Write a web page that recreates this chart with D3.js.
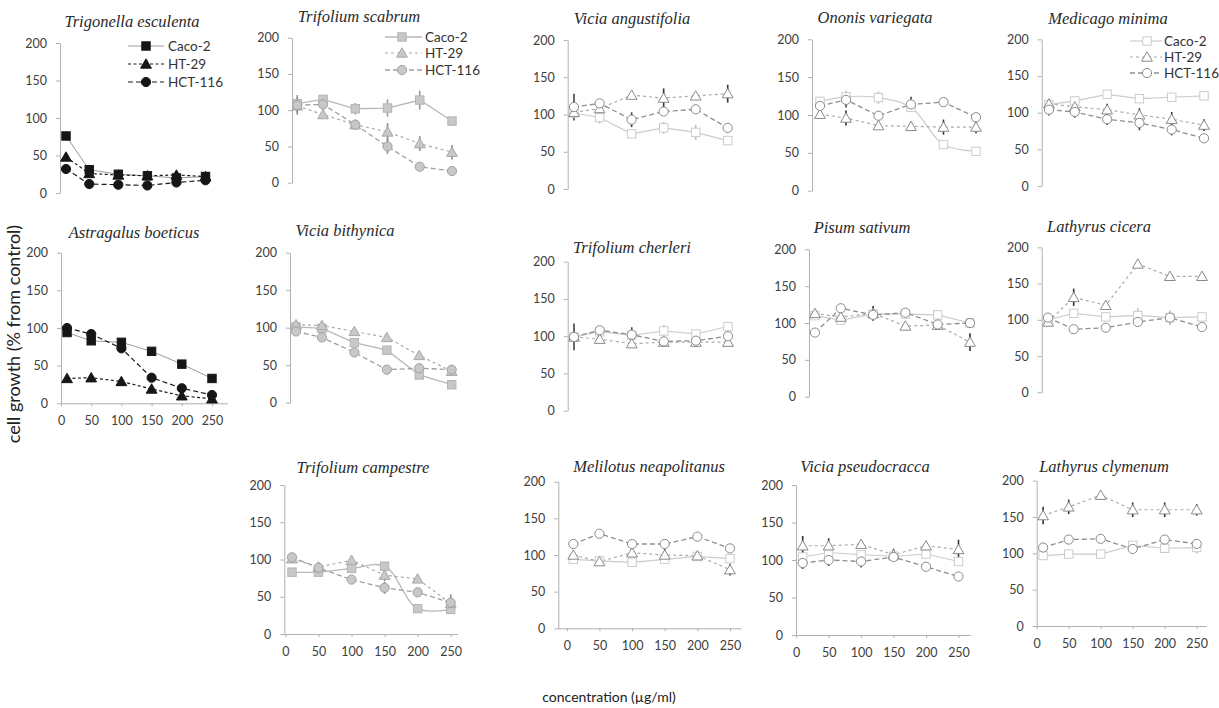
<!DOCTYPE html>
<html><head><meta charset="utf-8">
<script src="https://cdn.jsdelivr.net/npm/d3@7"></script>
<style>body{margin:0;background:#fff} svg{display:block}</style>
</head><body>
<svg id="c" width="1219" height="708"></svg>
<script>
// ---------------- DATA ----------------
const conc = [10, 50, 100, 150, 200, 250];
const cellLines = ["Caco-2", "HT-29", "HCT-116"];
const yTicks = [0, 50, 100, 150, 200];
const xTicks = [0, 50, 100, 150, 200, 250];
const species = [
  "Trigonella esculenta", "Trifolium scabrum", "Vicia angustifolia", "Ononis variegata", "Medicago minima",
  "Astragalus boeticus", "Vicia bithynica", "Trifolium cherleri", "Pisum sativum", "Lathyrus cicera",
  "Trifolium campestre", "Melilotus neapolitanus", "Vicia pseudocracca", "Lathyrus clymenum"
];
const caco2 = [
  [76, 31, 25, 23, 20, 22],
  [109, 115, 102, 103, 114, 85],
  [102, 96, 74, 82, 76, 65],
  [118, 124, 123, 110, 61, 52],
  [111, 116, 125, 119, 121, 123],
  [94, 83, 81, 69, 52, 33],
  [101, 99, 80, 70, 37, 24],
  [99, 106, 101, 107, 103, 113],
  [110, 104, 112, 112, 111, 100],
  [100, 109, 104, 106, 103, 104],
  [83, 83, 88, 91, 34, 33],
  [94, 92, 90, 94, 98, 95],
  [104, 110, 107, 105, 108, 98],
  [97, 99, 99, 111, 107, 108]
];
const ht29 = [
  [48, 26, 24, 23, 24, 22],
  [106, 94, 80, 70, 54, 42],
  [103, 108, 126, 122, 125, 128],
  [101, 96, 86, 85, 84, 84],
  [112, 108, 104, 97, 91, 83],
  [33, 34, 29, 19, 10, 6],
  [104, 103, 95, 87, 63, 42],
  [99, 96, 90, 92, 92, 92],
  [113, 108, 113, 96, 97, 74],
  [97, 131, 120, 177, 160, 160],
  [101, 90, 99, 79, 74, 41],
  [100, 91, 103, 100, 99, 80],
  [119, 119, 121, 107, 119, 114],
  [152, 164, 180, 160, 160, 160]
];
const hct116 = [
  [32, 12, 11, 10, 14, 17],
  [107, 108, 80, 50, 22, 16],
  [110, 115, 93, 104, 107, 82],
  [112, 120, 99, 114, 117, 97],
  [104, 101, 91, 86, 77, 65],
  [100, 92, 73, 34, 20, 11],
  [95, 87, 67, 44, 46, 44],
  [99, 108, 102, 93, 94, 100],
  [87, 120, 111, 114, 98, 100],
  [103, 87, 89, 97, 103, 90],
  [103, 89, 73, 62, 56, 42],
  [115, 129, 115, 115, 125, 109],
  [96, 100, 98, 104, 91, 78],
  [108, 119, 120, 106, 119, 113]
];
// [speciesIndex, seriesIndex, concIndex, ± error]
const errorBars = [
  [1,0,0,12],[1,1,0,12],[1,0,2,8],[1,0,3,12],[1,0,4,13],[1,1,3,12],[1,1,4,10],[1,1,5,10],[1,2,3,10],[1,2,4,6],
  [2,2,0,18],[2,1,1,8],[2,2,2,10],[2,1,3,13],[2,0,1,8],[2,0,3,8],[2,0,4,10],[2,1,5,12],
  [3,0,1,8],[3,2,1,10],[3,0,2,8],[3,1,1,10],[3,2,3,10],[3,1,4,10],[3,1,5,8],[3,1,0,6],
  [4,1,2,8],[4,1,3,9],[4,1,4,10],[4,1,5,8],[4,2,0,8],[4,2,1,8],[4,2,2,8],[4,2,3,10],[4,2,4,8],
  [7,2,0,18],[7,2,2,10],[7,0,3,8],[7,1,1,6],
  [8,1,2,10],[8,1,5,12],[8,2,0,6],
  [9,1,1,12],[9,0,3,10],[9,0,4,10],
  [10,1,5,12],[10,2,3,8],[10,1,3,8],
  [11,1,3,8],[11,1,5,8],
  [12,1,0,13],[12,1,1,10],[12,1,5,13],[12,2,0,8],[12,2,1,8],[12,2,2,8],[12,1,3,8],
  [13,1,0,12],[13,1,1,10],[13,1,3,10],[13,1,4,10],[13,1,5,8],[13,0,5,8]
];
const xTitle = "concentration (µg/ml)";
const yTitle = "cell growth (% from control)";

// ---------------- LAYOUT / STYLE ----------------
const layout = [
  {ax:60,   top:43,   bot:193,   x0:60.2,  x1:205.5, xEnd:null, tx:132,  ty:27,  st:"black", leg:{x1:128,x2:164,mx:146,tx:168,ys:[46,64,82]}},
  {ax:292,  top:37.7, bot:182.7, x0:290.8, x1:452,   xEnd:null, tx:359,  ty:22,  st:"gray",  leg:{x1:385,x2:422,mx:402,tx:425,ys:[37,53,70]}},
  {ax:567.7,top:40,   bot:189,   x0:567.6, x1:727.7, xEnd:null, tx:632,  ty:24,  st:"open"},
  {ax:812,  top:39.3, bot:190.7, x0:813.5, x1:976,   xEnd:null, tx:875,  ty:23,  st:"open", smooth:[0]},
  {ax:1041.7,top:39.3,bot:186,   x0:1042.5,x1:1204,  xEnd:null, tx:1108, ty:24,  st:"open",  leg:{x1:1130,x2:1162,mx:1147,tx:1164,ys:[41,57,73]}},
  {ax:61,   top:252.7,bot:403.3, x0:61,    x1:212,   xEnd:228,  tx:134,  ty:238, st:"black"},
  {ax:290,  top:252.7,bot:402.7, x0:289.5, x1:451.7, xEnd:null, tx:345,  ty:236, st:"gray"},
  {ax:567.7,top:261.7,bot:410.7, x0:567.6, x1:728,   xEnd:null, tx:632,  ty:253, st:"open"},
  {ax:809,  top:249.3,bot:396.7, x0:808.5, x1:970,   xEnd:null, tx:862,  ty:233, st:"open"},
  {ax:1041.7,top:247.3,bot:392.3,x0:1041.6,x1:1202,  xEnd:null, tx:1099, ty:232, st:"open"},
  {ax:284.3,top:485,  bot:634,   x0:285.4, x1:450.7, xEnd:458,  tx:363,  ty:473, st:"gray", smooth:[0]},
  {ax:558.3,top:481.7,bot:628.3, x0:566.8, x1:730,   xEnd:741.7,tx:649,  ty:472, st:"open"},
  {ax:796,  top:485,  bot:635,   x0:796.2, x1:958.5, xEnd:970.7,tx:865,  ty:472, st:"open"},
  {ax:1036.7,top:480.7,bot:626,  x0:1036.7,x1:1196.7,xEnd:1206.7,tx:1104,ty:472, st:"open"}
];
const styles = {
  black: {fill:["#161616","#161616","#161616"], stroke:["#161616","#161616","#161616"],
          line:["#9a9a9a","#1a1a1a","#1a1a1a"], dash:[null,"3,2.5","5,3"], lw:[1,1.2,1.2], err:["#222","#222","#222"]},
  gray:  {fill:["#c8c8c8","#c8c8c8","#c8c8c8"], stroke:["#b4b4b4","#a8a8a8","#a0a0a0"],
          line:["#b8b8b8","#ababab","#a0a0a0"], dash:[null,"3,3","5,3"], lw:[1.3,1.2,1.3], err:["#999","#888","#888"]},
  open:  {fill:["#fff","#fff","#fff"], stroke:["#cccccc","#8a8a8a","#8a8a8a"],
          line:["#cccccc","#aaaaaa","#8e8e8e"], dash:[null,"3,3","5,3"], lw:[1.2,1.2,1.3], err:["#bbb","#333","#444"]}
};
const markerType = ["square", "triangle", "circle"];
const tickFont = "Lato, 'Open Sans', sans-serif";

const svg = d3.select("#c");
const seriesData = [caco2, ht29, hct116];

function drawMarker(g, type, x, y, fill, stroke) {
  if (type === "square") {
    g.append("rect").attr("x", x - 4.2).attr("y", y - 4.2).attr("width", 8.4).attr("height", 8.4)
      .attr("fill", fill).attr("stroke", stroke).attr("stroke-width", 1);
  } else if (type === "circle") {
    g.append("circle").attr("cx", x).attr("cy", y).attr("r", 4.6)
      .attr("fill", fill).attr("stroke", stroke).attr("stroke-width", 1);
  } else {
    g.append("path").attr("d", `M${x},${y-5.2}L${x+5.4},${y+4.2}L${x-5.4},${y+4.2}Z`)
      .attr("fill", fill).attr("stroke", stroke).attr("stroke-width", 1);
  }
}

layout.forEach((L, p) => {
  const g = svg.append("g");
  const st = styles[L.st];
  const x = d3.scaleLinear().domain([0, 250]).range([L.x0, L.x1]);
  const y = d3.scaleLinear().domain([0, 200]).range([L.bot, L.top]);

  const ya = g.append("g").attr("transform", `translate(${L.ax},0)`)
    .call(d3.axisLeft(y).tickValues(yTicks).tickSize(4).tickPadding(9).tickSizeOuter(0));
  ya.select(".domain").attr("stroke", "#b0b0b0");
  ya.selectAll(".tick line").attr("stroke", "#b0b0b0");
  ya.selectAll(".tick text").attr("fill", "#404040").style("font-family", tickFont).style("font-size", "12.5px");

  if (L.xEnd) {
    const xa = g.append("g").attr("transform", `translate(0,${L.bot})`)
      .call(d3.axisBottom(x).tickValues(xTicks).tickSize(3).tickPadding(10).tickSizeOuter(0));
    xa.select(".domain").remove();
    xa.insert("line", ":first-child").attr("x1", L.ax).attr("x2", L.xEnd).attr("y1", 0.5).attr("y2", 0.5).attr("stroke", "#b0b0b0");
    xa.selectAll(".tick line").attr("stroke", "#b0b0b0");
    xa.selectAll(".tick text").attr("fill", "#404040").style("font-family", tickFont).style("font-size", "12.5px");
  }

  g.append("text").attr("x", L.tx).attr("y", L.ty).attr("text-anchor", "middle")
    .style("font-family", "'Liberation Serif', 'Times New Roman', serif").style("font-style", "italic")
    .style("font-size", "16.5px").attr("fill", "#2a2a2a").text(species[p]);

  [0, 1, 2].forEach(s => {
    const vals = seriesData[s][p];
    const pts = conc.map((c, i) => [x(c), y(vals[i])]);
    const smooth = L.smooth && L.smooth.includes(s);
    const line = d3.line().curve(smooth ? d3.curveCatmullRom.alpha(0.5) : d3.curveLinear);
    g.append("path").attr("d", line(pts)).attr("fill", "none")
      .attr("stroke", st.line[s]).attr("stroke-width", st.lw[s])
      .attr("stroke-dasharray", st.dash[s]);
    errorBars.filter(e => e[0] === p && e[1] === s).forEach(e => {
      const c = conc[e[2]], v = vals[e[2]];
      g.append("line").attr("x1", x(c)).attr("x2", x(c)).attr("y1", y(v - e[3])).attr("y2", y(v + e[3]))
        .attr("stroke", st.err[s]).attr("stroke-width", 1.6);
    });
  });
  [0, 1, 2].forEach(s => {
    const vals = seriesData[s][p];
    conc.forEach((c, i) => drawMarker(g, markerType[s], x(c), y(vals[i]), st.fill[s], st.stroke[s]));
  });

  if (L.leg) {
    const lg = g.append("g");
    cellLines.forEach((name, s) => {
      const yy = L.leg.ys[s];
      lg.append("line").attr("x1", L.leg.x1).attr("x2", L.leg.x2).attr("y1", yy).attr("y2", yy)
        .attr("stroke", st.line[s]).attr("stroke-width", st.lw[s]).attr("stroke-dasharray", st.dash[s]);
      drawMarker(lg, markerType[s], L.leg.mx, yy, st.fill[s], st.stroke[s]);
      lg.append("text").attr("x", L.leg.tx).attr("y", yy).attr("dy", "0.35em")
        .style("font-family", tickFont).style("font-size", "13.5px").attr("fill", "#333").text(name);
    });
  }
});

svg.append("text").attr("transform", "translate(20,334) rotate(-90)").attr("text-anchor", "middle")
  .style("font-family", tickFont).style("font-size", "18px").attr("fill", "#222").text(yTitle);
svg.append("text").attr("x", 609).attr("y", 702).attr("text-anchor", "middle")
  .style("font-family", tickFont).style("font-size", "14px").attr("fill", "#222").text(xTitle);
</script></body></html>
